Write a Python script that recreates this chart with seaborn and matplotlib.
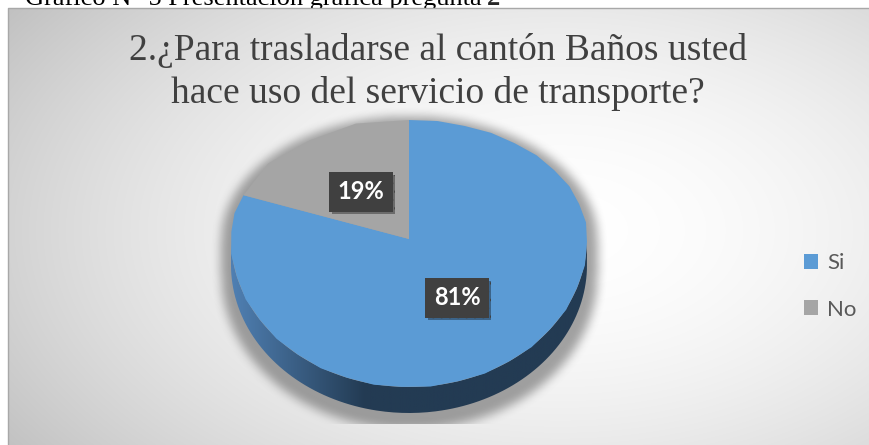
import numpy as np
import matplotlib
matplotlib.use("Agg")
import matplotlib.pyplot as plt
import matplotlib.patheffects as pe
from matplotlib.path import Path
from matplotlib.patches import PathPatch, Polygon
import seaborn as sns

# Datos del grafico
categorias = ["Si", "No"]
porcentajes = [81, 19]
colores = ["#5b9bd5", "#a5a5a5"]
titulo = ["2.¿Para trasladarse al cantón Baños usted",
          "hace uso del servicio de transporte?"]
pie_de_grafico = "Gráfico N° 5 Presentación gráfica pregunta"
numero_grafico = "2"

sns.set_theme(style="white")
plt.rcParams["font.family"] = ["Liberation Serif", "DejaVu Serif"]
plt.rcParams["hatch.color"] = "#585858"
plt.rcParams["hatch.linewidth"] = 1.2

W, H = 869, 445
fig = plt.figure(figsize=(W / 100, H / 100), dpi=100)

# ---- fondo (coordenadas en pixeles) ----
bg = fig.add_axes([0, 0, 1, 1])
bg.set_xlim(0, W)
bg.set_ylim(H, 0)
bg.axis("off")

yy, xx = np.mgrid[8:H, 8:W].astype(float)
r = np.sqrt(((xx - 560) / 600) ** 2 + ((yy - 230) / 350) ** 2)
v = np.clip(1 - 0.2 * r ** 1.8, 0, 1)
bg.imshow(np.dstack([v, v, v]), extent=(8, W, H, 8), aspect="auto",
          interpolation="bilinear", zorder=1)
bg.plot([8, 8, W], [H, 8, 8], color="#a8a8a8", lw=1, zorder=2)

# pie de grafico cortado arriba
t0 = bg.text(25, 5, pie_de_grafico, fontsize=19, va="baseline", color="black", zorder=0.5)
bg.annotate(numero_grafico, xy=(1, 0), xycoords=t0, xytext=(4, 0),
            textcoords="offset points", fontsize=19, fontweight="bold",
            va="bottom", zorder=0.5)

# titulo
bg.text(438, 60, titulo[0], fontsize=27, ha="center", va="baseline",
        color="#404040", zorder=3)
bg.text(438, 103, titulo[1], fontsize=27, ha="center", va="baseline",
        color="#404040", zorder=3)

# geometria del pastel (pixeles): mitad lejana mas corta (perspectiva)
cx, cy, rx, ry, ry_top, dpx = 409, 239, 178, 148, 119, 26
ktop = ry_top / ry

# sombra difusa
u = (xx - cx) / (rx + 10)
root = np.sqrt(np.clip(1 - u ** 2, 0, 1))
mask = ((np.abs(u) <= 1) & (yy >= cy - (ry_top + 4) * root)
        & (yy <= cy + dpx + 10 + (ry + 6) * root)).astype(float)


def blur(a, k):
    ker = np.ones(k) / k
    a = np.apply_along_axis(lambda m: np.convolve(m, ker, mode="same"), 0, a)
    a = np.apply_along_axis(lambda m: np.convolve(m, ker, mode="same"), 1, a)
    return a


sh = blur(blur(mask, 13), 9)
sh[yy > 423] = 0
rgba = np.zeros(sh.shape + (4,))
rgba[..., :3] = 0.4
rgba[..., 3] = sh * 0.6
bg.imshow(rgba, extent=(8, W, H, 8), aspect="auto", interpolation="bilinear", zorder=2)

# ---- pastel (ejes elipticos) ----
pa = fig.add_axes([0, 0, 1, 1], zorder=2)
pa.patch.set_alpha(0)

d = dpx / ry
# lateral 3D con degradado
t = np.linspace(np.pi, 2 * np.pi, 200)
pts = np.concatenate([np.c_[np.cos(t), np.sin(t)],
                      np.c_[np.cos(t[::-1]), np.sin(t[::-1]) - d]])
lado = PathPatch(Path(pts), fc="none", lw=0)
pa.add_patch(lado)
gx = np.linspace(-1, 1, 400)
claro = np.array([0x50, 0x80, 0xb3]) / 255
oscuro = np.array([0x23, 0x3b, 0x53]) / 255
w = np.clip((gx + 1) / 0.75, 0, 1)[:, None]
grad = (claro * (1 - w) + oscuro * w)[None, :, :]
img = pa.imshow(grad, extent=(-1, 1, -1 - d, 0), aspect="auto", zorder=1)
img.set_clip_path(lado)

wedges, texts, autotexts = pa.pie(
    porcentajes, colors=colores, startangle=90, counterclock=False,
    autopct="%1.0f%%", pctdistance=0.48, wedgeprops=dict(linewidth=0, zorder=2),
)

# aplicar la perspectiva a la cara superior
caras = []
for wd in wedges:
    poly = np.vstack(wd.get_path().to_polygons())
    poly[:, 1] = np.where(poly[:, 1] > 0, poly[:, 1] * ktop, poly[:, 1])
    cara = Polygon(poly, closed=True, fc=wd.get_facecolor(), lw=0, zorder=2)
    pa.add_patch(cara)
    caras.append(cara)
    wd.set_visible(False)

for at in autotexts:
    x, y = at.get_position()
    at.set_position((x, y * ktop if y > 0 else y))
    at.set_fontfamily(["Lato", "DejaVu Sans"])
    at.set_fontweight("bold")
    at.set_fontsize(17)
    at.set_color("white")
    at.set_zorder(5)
    at.set_bbox(dict(boxstyle="square,pad=0.35", fc="#404040", ec="#404040",
                     hatch="..", lw=0))
    at.get_bbox_patch().set_path_effects(
        [pe.SimplePatchShadow(offset=(2, -2), shadow_rgbFace="black", alpha=0.35),
         pe.Normal()])

pa.set_aspect("auto")
pa.set_xlim((0 - cx) / rx, (W - cx) / rx)
pa.set_ylim((cy - H) / ry, cy / ry)
pa.axis("off")

# leyenda
fig.legend(caras, categorias, loc="upper left", bbox_to_anchor=(804 / W, 1 - 253 / H),
           frameon=False, prop={"family": ["Lato", "DejaVu Sans"], "size": 16},
           labelcolor="#595959", handlelength=0.65, handleheight=0.65,
           handletextpad=0.4, labelspacing=1.2, borderpad=0, borderaxespad=0)

fig.savefig("out.png", dpi=100)
